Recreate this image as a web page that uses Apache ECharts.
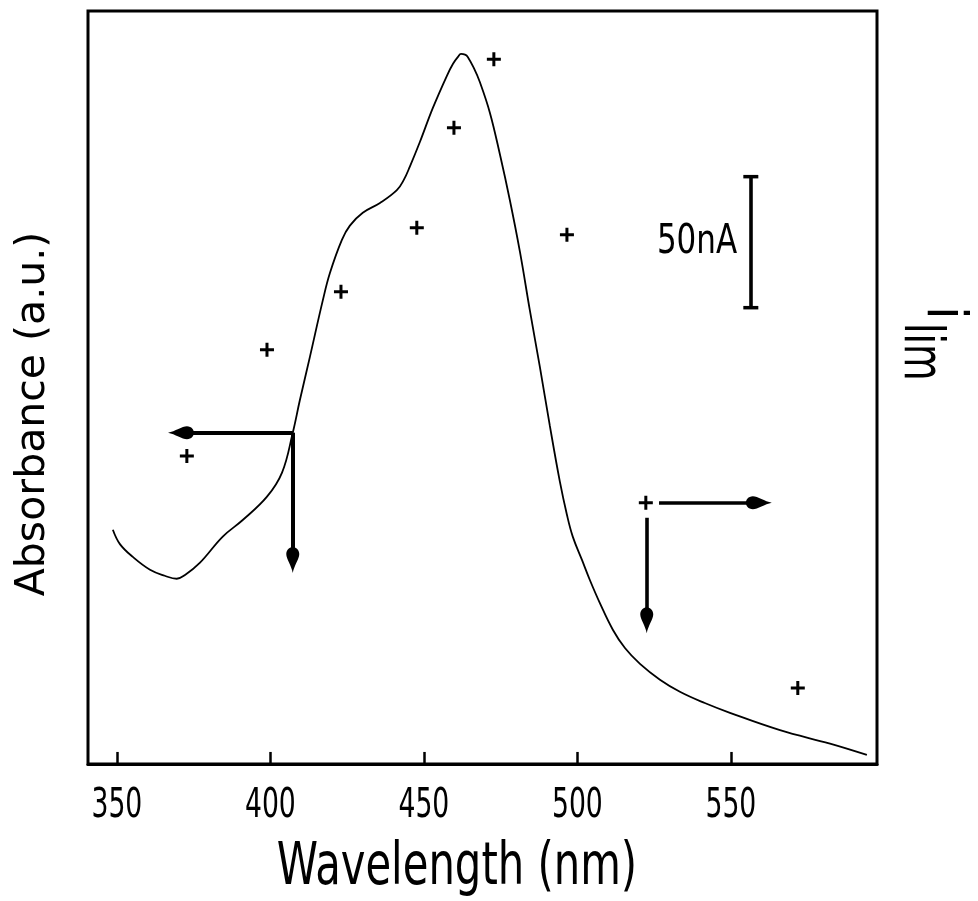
<!DOCTYPE html>
<html>
<head>
<meta charset="utf-8">
<script src="https://cdn.jsdelivr.net/npm/echarts@6/dist/echarts.min.js"></script>
<style>
  html, body { margin: 0; padding: 0; background: #fff; }
  #chart { width: 978px; height: 901px; }
</style>
</head>
<body>
<div id="chart"></div>
<script>
// Absorbance spectrum (solid curve), wavelength in nm, absorbance in arbitrary units
const wavelength = [348.7, 351.0, 355.2, 360.8, 365.6, 369.5, 372.2, 377.0, 384.5, 391.0,
  398.9, 403.8, 407.3, 409.6, 412.9, 417.1, 419.4, 423.3, 425.9, 430.1,
  435.7, 441.2, 443.5, 445.4, 448.7, 452.9, 457.5, 459.5, 461.1, 462.1,
  463.4, 464.3, 466.3, 468.2, 471.5, 474.8, 478.0, 481.3, 484.5, 487.8,
  491.0, 494.3, 496.6, 498.5, 501.5, 504.1, 507.3, 511.6, 515.5, 520.4,
  526.9, 533.4, 541.5, 549.7, 566.0, 582.3, 594.3];
const absorbance = [0.311, 0.292, 0.275, 0.258, 0.250, 0.246, 0.251, 0.267, 0.302, 0.324,
  0.355, 0.387, 0.440, 0.483, 0.541, 0.616, 0.652, 0.696, 0.715, 0.732,
  0.745, 0.762, 0.776, 0.793, 0.826, 0.871, 0.914, 0.930, 0.939, 0.943,
  0.942, 0.939, 0.924, 0.906, 0.865, 0.809, 0.749, 0.680, 0.603, 0.527,
  0.450, 0.375, 0.331, 0.302, 0.271, 0.244, 0.214, 0.178, 0.154, 0.133,
  0.112, 0.096, 0.081, 0.068, 0.045, 0.027, 0.012];

// Limiting photocurrent (crosses), same wavelength scale, arbitrary units
const currentWl = [372.8, 398.9, 423.0, 447.7, 459.8, 472.8, 496.6, 522.3, 571.8];
const currentI = [0.409, 0.550, 0.627, 0.712, 0.845, 0.936, 0.703, 0.347, 0.101];

const tickValues = [350, 400, 450, 500, 550];

// Axis-pointing arrows: [from, to] in data units (wavelength, a.u.)
const arrowAbsLeft = [[407.3, 0.440], [370.9, 0.440]];
const arrowAbsDown = [[407.3, 0.440], [407.3, 0.271]];
const arrowCurRight = [[526.6, 0.347], [559.1, 0.347]];
const arrowCurDown = [[522.6, 0.327], [522.6, 0.191]];

// 50 nA scale bar
const scaleBar = [[556.5, 0.780], [556.5, 0.606]];

const absData = wavelength.map((w, i) => [w, absorbance[i]]);
const curData = currentWl.map((w, i) => [w, currentI[i]]);

const cond = '"DejaVu Sans Condensed", "DejaVu Sans", sans-serif';
const spindle = 'path://M5,0 C6,6 10,12 10,16 C10,20 7,22 5,22 C3,22 0,20 0,16 C0,12 4,6 5,0 Z';
const plus = 'path://M5.5,0 H8.5 V5.5 H14 V8.5 H8.5 V14 H5.5 V8.5 H0 V5.5 H5.5 Z';

function arrow(pair) {
  return [
    { coord: pair[0], symbol: 'none' },
    { coord: pair[1], symbol: spindle, symbolSize: [13, 26] }
  ];
}

// inward ticks along the wavelength axis
const tickMarks = tickValues.map(v => [
  { coord: [v, 0], symbol: 'none' },
  { coord: [v, 0.016], symbol: 'none' }
]);

const chart = echarts.init(document.getElementById('chart'), null, { renderer: 'canvas' });

chart.setOption({
  backgroundColor: '#fff',
  animation: false,
  grid: {
    left: 88, right: 101, top: 11, bottom: 137,
    show: true, borderColor: '#000', borderWidth: 3,
    outerBoundsMode: 'none'
  },
  xAxis: {
    type: 'value',
    min: 340.6, max: 597.6,
    axisLine: { show: true, lineStyle: { color: '#000', width: 3 } },
    axisTick: { show: false },
    axisLabel: { show: false },
    splitLine: { show: false }
  },
  yAxis: [
    {
      type: 'value', min: 0, max: 1, position: 'left',
      axisLine: { show: false }, axisTick: { show: false },
      axisLabel: { show: false }, splitLine: { show: false }
    },
    {
      type: 'value', min: 0, max: 1, position: 'right',
      axisLine: { show: false }, axisTick: { show: false },
      axisLabel: { show: false }, splitLine: { show: false }
    }
  ],
  series: [
    {
      name: 'Absorbance',
      type: 'line',
      data: absData,
      smooth: 0.4,
      showSymbol: false,
      silent: true,
      lineStyle: { color: '#000', width: 1.8 },
      markLine: {
        silent: true,
        label: { show: false },
        lineStyle: { color: '#000', width: 4, type: 'solid' },
        data: [arrow(arrowAbsLeft), arrow(arrowAbsDown)]
      }
    },
    {
      name: 'i_lim',
      type: 'scatter',
      yAxisIndex: 1,
      data: curData,
      symbol: plus,
      symbolSize: 14,
      silent: true,
      itemStyle: { color: '#000', opacity: 1 },
      markLine: {
        silent: true,
        label: { show: false },
        lineStyle: { color: '#000', width: 3.6, type: 'solid' },
        data: [
          arrow(arrowCurRight),
          arrow(arrowCurDown),
          [
            { coord: scaleBar[0], symbol: 'rect', symbolSize: [15, 3.5] },
            { coord: scaleBar[1], symbol: 'rect', symbolSize: [15, 3.5] }
          ]
        ]
      }
    },
    {
      name: 'ticks',
      type: 'line',
      data: [],
      silent: true,
      markLine: {
        silent: true,
        symbol: 'none',
        label: { show: false },
        lineStyle: { color: '#000', width: 2.5, type: 'solid' },
        data: tickMarks
      }
    }
  ]
});

// Tick labels placed from the axis scale, plus titles and annotations
const tickLabels = tickValues.map(v => ({
  type: 'text',
  x: chart.convertToPixel({ xAxisIndex: 0 }, v),
  y: 787,
  scaleX: 0.74,
  silent: true,
  style: {
    text: String(v), fill: '#000', font: '40px ' + cond,
    align: 'center', verticalAlign: 'top',
    textAlign: 'center', textVerticalAlign: 'top'
  }
}));

chart.setOption({
  graphic: tickLabels.concat([
    {
      type: 'text', x: 457, y: 869, scaleX: 0.80, silent: true,
      style: {
        text: 'Wavelength (nm)', fill: '#000',
        font: '58px ' + cond,
        align: 'center', verticalAlign: 'middle',
        textAlign: 'center', textVerticalAlign: 'middle'
      }
    },
    {
      type: 'text', x: 33, y: 414, rotation: Math.PI / 2, silent: true,
      style: {
        text: 'Absorbance (a.u.)', fill: '#000',
        font: '41px "DejaVu Sans", sans-serif',
        align: 'center', verticalAlign: 'middle',
        textAlign: 'center', textVerticalAlign: 'middle'
      }
    },
    {
      type: 'text', x: 697, y: 242, scaleX: 0.84, silent: true,
      style: {
        text: '50nA', fill: '#000',
        font: '41px ' + cond,
        align: 'center', verticalAlign: 'middle',
        textAlign: 'center', textVerticalAlign: 'middle'
      }
    },
    {
      type: 'text', x: 942, y: 306, rotation: -Math.PI / 2, silent: true,
      style: {
        text: 'i', fill: '#000',
        font: '55px ' + cond,
        align: 'left', verticalAlign: 'middle',
        textAlign: 'left', textVerticalAlign: 'middle'
      }
    },
    {
      type: 'text', x: 919, y: 323, rotation: -Math.PI / 2, scaleX: 0.76, silent: true,
      style: {
        text: 'lim', fill: '#000',
        font: '55px ' + cond,
        align: 'left', verticalAlign: 'middle',
        textAlign: 'left', textVerticalAlign: 'middle'
      }
    }
  ])
});
</script>
</body>
</html>
